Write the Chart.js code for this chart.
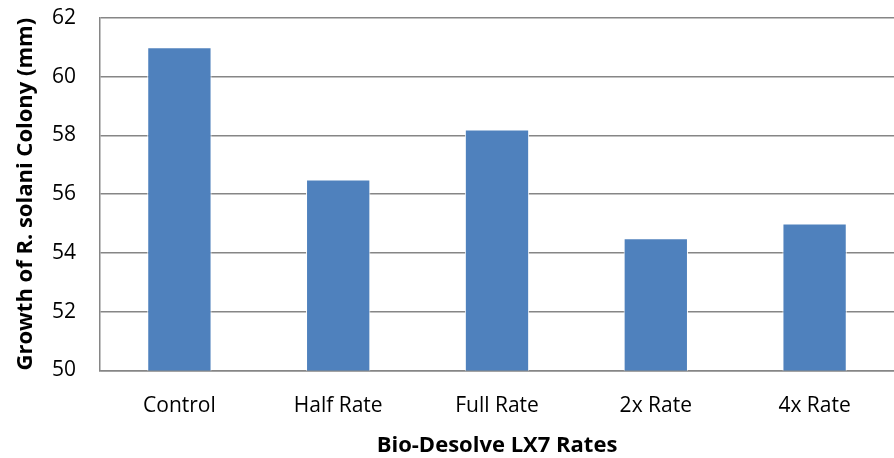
<!DOCTYPE html>
<html><head><meta charset="utf-8">
<script src="https://cdn.jsdelivr.net/npm/chart.js@4"></script>
<style>html,body{margin:0;padding:0;background:#fff}#wrap{width:894px;height:458px}</style>
</head><body><div id="wrap"><canvas id="c"></canvas></div>
<script>
const categories = ["Control", "Half Rate", "Full Rate", "2x Rate", "4x Rate"];
const growth = [61, 56.5, 58.2, 54.5, 55];
const yTicks = [50, 52, 54, 56, 58, 60, 62];
const xTitle = "Bio-Desolve LX7 Rates";
const yTitle = "Growth of R. solani Colony (mm)";

const font = "'Open Sans', 'Liberation Sans', sans-serif";
new Chart(document.getElementById('c'), {
  type: 'bar',
  data: { labels: categories, datasets: [{ data: growth, backgroundColor: '#4f81bd', borderColor: '#ffffff', borderWidth: {left:1,right:1,top:1,bottom:0}, categoryPercentage: 1, barPercentage: 0.405 }] },
  options: {
    responsive: true, maintainAspectRatio: false, animation: false,
    layout: { padding: { top: 18, right: 0, bottom: 0, left: 13 } },
    plugins: { legend: { display: false }, tooltip: { enabled: false } },
    scales: {
      x: {
        grid: { display: false, drawTicks: false },
        border: { color: '#868686', width: 1.5 },
        ticks: { color: '#000', font: { family: font, size: 21 }, padding: 23 },
        title: { display: true, text: xTitle, color: '#000', font: { family: font, size: 22, weight: 'bold' }, padding: { top: -9, bottom: -1 } }
      },
      y: {
        min: 50, max: 62,
        afterBuildTicks: s => { s.ticks = yTicks.map(v => ({ value: v })); },
        grid: { color: '#868686', lineWidth: 1.5, drawTicks: false },
        border: { color: '#868686', width: 1.5 },
        ticks: { color: '#000', font: { family: font, size: 21 }, padding: 24 },
        title: { display: true, text: yTitle, color: '#000', font: { family: font, size: 22, weight: 'bold' }, padding: { top: 0, bottom: 0 } },
        afterFit: s => { s.width = 87; s.paddingTop = 0; s.paddingBottom = 0; }
      }
    }
  }
});
</script></body></html>
